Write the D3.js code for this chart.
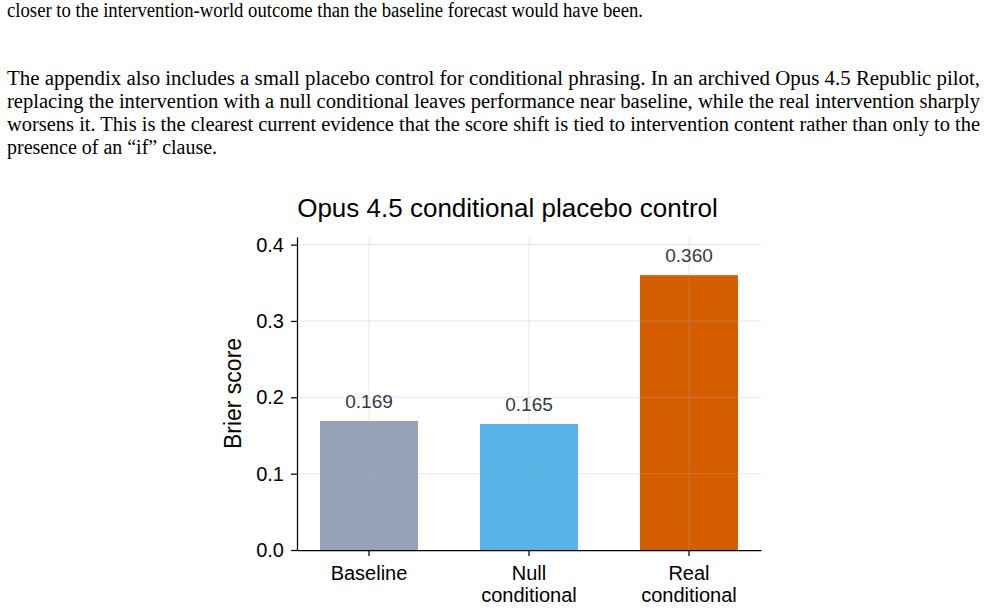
<!DOCTYPE html>
<html>
<head>
<meta charset="utf-8">
<script src="https://cdn.jsdelivr.net/npm/d3@7"></script>
<style>
  body { margin: 0; background: #fff; }
  svg { display: block; }
</style>
</head>
<body>
<svg id="page" width="987" height="609"></svg>
<script>
// chart data
var categories = ["Baseline", "Null conditional", "Real conditional"],
	categoryLines = [["Baseline"], ["Null", "conditional"], ["Real", "conditional"]],
	brierScores = [0.169, 0.165, 0.360],
	barColors = ["#94a3b8", "#56b4e9", "#d55e00"],
	yTicks = [0.0, 0.1, 0.2, 0.3, 0.4],
	chartTitle = "Opus 4.5 conditional placebo control",
	yLabel = "Brier score";

// surrounding document text: [text, x, baseline, width]
var bodyLines = [
	["closer to the intervention-world outcome than the baseline forecast would have been.", 7, 17, 636],
	["The appendix also includes a small placebo control for conditional phrasing.  In an archived Opus 4.5 Republic pilot,", 7, 85, 973],
	["replacing the intervention with a null conditional leaves performance near baseline, while the real intervention sharply", 7, 108, 973],
	["worsens it. This is the clearest current evidence that the score shift is tied to intervention content rather than only to the", 7, 131, 973],
	["presence of an \u201cif\u201d clause.", 7, 154, 210]
];

var svg = d3.select("#page"),
	plotL = 297, plotR = 761, plotT = 237, plotB = 550;

svg.selectAll("text.body")
	.data(bodyLines)
	.enter().append("text")
	.attr("class", "body")
	.attr("x", function(d){ return d[1]; })
	.attr("y", function(d){ return d[2]; })
	.attr("textLength", function(d){ return d[3]; })
	.attr("lengthAdjust", "spacingAndGlyphs")
	.style("font-family", "'Liberation Serif', 'Times New Roman', serif")
	.style("font-size", "20px")
	.attr("fill", "#000")
	.text(function(d){ return d[0]; });

var x = d3.scaleBand()
	.domain(categories)
	.range([plotL, plotR])
	.paddingInner(0.3875)
	.paddingOuter(0.14375);

var y = d3.scaleLinear()
	.domain([0, 0.41])
	.range([plotB, plotT]);

var font = "'Liberation Sans', Arial, Helvetica, sans-serif";

// bars
svg.selectAll("rect.bar")
	.data(brierScores)
	.enter().append("rect")
	.attr("class", "bar")
	.attr("x", function(d, i){ return x(categories[i]); })
	.attr("y", function(d){ return y(d); })
	.attr("width", x.bandwidth())
	.attr("height", function(d){ return y(0) - y(d); })
	.attr("fill", function(d, i){ return barColors[i]; });

// grid on top of bars, faint
var grid = svg.append("g").attr("stroke", "#b0b0b0").attr("stroke-opacity", 0.3).attr("stroke-width", 1);
grid.selectAll("line.h")
	.data(yTicks.slice(1))
	.enter().append("line")
	.attr("x1", plotL).attr("x2", plotR)
	.attr("y1", function(d){ return y(d); })
	.attr("y2", function(d){ return y(d); });
grid.selectAll("line.v")
	.data(categories)
	.enter().append("line")
	.attr("x1", function(d){ return x(d) + x.bandwidth()/2; })
	.attr("x2", function(d){ return x(d) + x.bandwidth()/2; })
	.attr("y1", plotT).attr("y2", plotB);

// value labels
svg.selectAll("text.val")
	.data(brierScores)
	.enter().append("text")
	.attr("class", "val")
	.attr("x", function(d, i){ return x(categories[i]) + x.bandwidth()/2; })
	.attr("y", function(d){ return y(d) - 13; })
	.attr("text-anchor", "middle")
	.style("font-family", font)
	.style("font-size", "19px")
	.attr("fill", "#2f3a4a")
	.text(function(d){ return d3.format(".3f")(d); });

// axes
var yAxis = svg.append("g")
	.attr("transform", "translate(" + plotL + ",0)")
	.call(d3.axisLeft(y).tickValues(yTicks).tickFormat(d3.format(".1f")).tickSize(6).tickSizeOuter(0).tickPadding(7));
yAxis.select(".domain").attr("stroke-width", 1.25);
yAxis.selectAll(".tick line").attr("stroke-width", 1.25);
yAxis.selectAll(".tick text").style("font-family", font).style("font-size", "20px").attr("fill", "#000");

var xAxis = svg.append("g")
	.attr("transform", "translate(0," + plotB + ")")
	.call(d3.axisBottom(x).tickSize(6).tickSizeOuter(0).tickFormat(""));
xAxis.select(".domain").attr("stroke-width", 1.25);
xAxis.selectAll(".tick line").attr("stroke-width", 1.25);

svg.selectAll("text.cat")
	.data(categoryLines)
	.enter().append("text")
	.attr("class", "cat")
	.attr("x", function(d, i){ return x(categories[i]) + x.bandwidth()/2; })
	.attr("y", 580)
	.attr("text-anchor", "middle")
	.style("font-family", font)
	.style("font-size", "20px")
	.attr("fill", "#000")
	.each(function(d){
		var t = d3.select(this);
		d.forEach(function(line, k){
			t.append("tspan")
				.attr("x", t.attr("x"))
				.attr("dy", k === 0 ? 0 : 22)
				.text(line);
		});
	});

// title and y label
svg.append("text")
	.attr("x", 507.5)
	.attr("y", 217)
	.attr("text-anchor", "middle")
	.style("font-family", font)
	.style("font-size", "26px")
	.attr("fill", "#000")
	.text(chartTitle);

svg.append("text")
	.attr("transform", "translate(241," + ((plotT + plotB)/2) + ") rotate(-90)")
	.attr("text-anchor", "middle")
	.style("font-family", font)
	.style("font-size", "23px")
	.attr("fill", "#000")
	.text(yLabel);
</script>
</body>
</html>
